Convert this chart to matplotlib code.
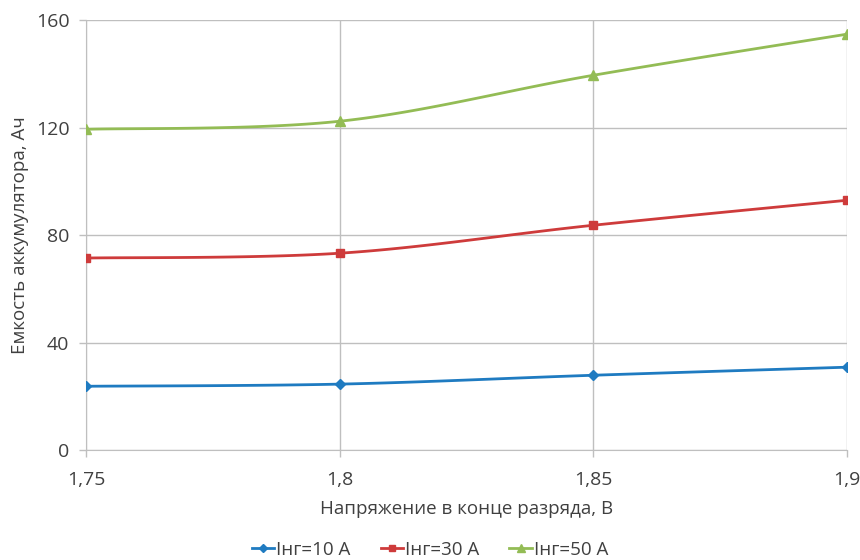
import numpy as np
import matplotlib.pyplot as plt

# Data
voltage = [1.75, 1.8, 1.85, 1.9]
cap_10 = [23.8, 24.6, 27.9, 30.9]
cap_30 = [71.5, 73.3, 83.7, 93.0]
cap_50 = [119.4, 122.4, 139.5, 154.8]
labels = ['Iнг=10 A', 'Iнг=30 A', 'Iнг=50 A']
x_ticks = ['1,75', '1,8', '1,85', '1,9']

plt.rcParams['font.family'] = ['Open Sans', 'DejaVu Sans']


def smooth(x, y, n=40):
    # Excel-style smoothed line: cubic Bezier with Catmull-Rom control points
    x = np.asarray(x, float)
    y = np.asarray(y, float)
    px = np.concatenate([[x[0]], x, [x[-1]]])
    py = np.concatenate([[y[0]], y, [y[-1]]])
    xs, ys = [], []
    t = np.linspace(0, 1, n)
    for i in range(1, len(px) - 2):
        p0 = np.array([px[i], py[i]])
        p3 = np.array([px[i + 1], py[i + 1]])
        c1 = p0 + (np.array([px[i + 1], py[i + 1]]) - np.array([px[i - 1], py[i - 1]])) / 6
        c2 = p3 - (np.array([px[i + 2], py[i + 2]]) - np.array([px[i], py[i]])) / 6
        b = ((1 - t) ** 3)[:, None] * p0 + (3 * (1 - t) ** 2 * t)[:, None] * c1 \
            + (3 * (1 - t) * t ** 2)[:, None] * c2 + (t ** 3)[:, None] * p3
        xs.extend(b[:, 0])
        ys.extend(b[:, 1])
    return xs, ys


fig = plt.figure(figsize=(8.6, 5.6), dpi=100)
ax = fig.add_axes([0.1, 0.196, 0.885, 0.768])

series = [
    (cap_10, '#1F7BC1', 'D', 5),
    (cap_30, '#CE3B3B', 's', 6),
    (cap_50, '#93BC55', '^', 7),
]
handles = []
for (vals, color, marker, ms), lab in zip(series, labels):
    sx, sy = smooth(voltage, vals)
    ax.plot(sx, sy, color=color, lw=2, zorder=3)
    ax.plot(voltage, vals, ls='none', marker=marker, ms=ms, color=color, zorder=4)
    h, = ax.plot([], [], color=color, lw=2, marker=marker, ms=ms - 1)
    handles.append(h)

ax.set_xlim(1.75, 1.9)
ax.set_ylim(0, 160)
ax.set_xticks(voltage)
ax.set_xticklabels(x_ticks)
ax.set_yticks([0, 40, 80, 120, 160])
ax.grid(True, color='#BFBFBF', lw=1)
ax.set_axisbelow(True)
for side in ['top', 'right']:
    ax.spines[side].set_visible(False)
for side in ['left', 'bottom']:
    ax.spines[side].set_color('#BFBFBF')
ax.tick_params(colors='#BFBFBF', labelcolor='#404040', labelsize=14, length=5, width=1)
ax.tick_params(axis='y', pad=7)
ax.tick_params(axis='x', pad=10)
ax.set_xlabel('Напряжение в конце разряда, В', fontsize=13.5, color='#404040', labelpad=8)
ax.set_ylabel('Емкость аккумулятора, Ач', fontsize=13.5, color='#404040', labelpad=5)

fig.legend(handles, labels, loc='center', bbox_to_anchor=(0.5, 0.018), ncol=3,
           frameon=False, fontsize=13.5, handlelength=1.2, columnspacing=1.6,
           handletextpad=0.1, labelcolor='#404040')

fig.savefig('out.png', dpi=100)
